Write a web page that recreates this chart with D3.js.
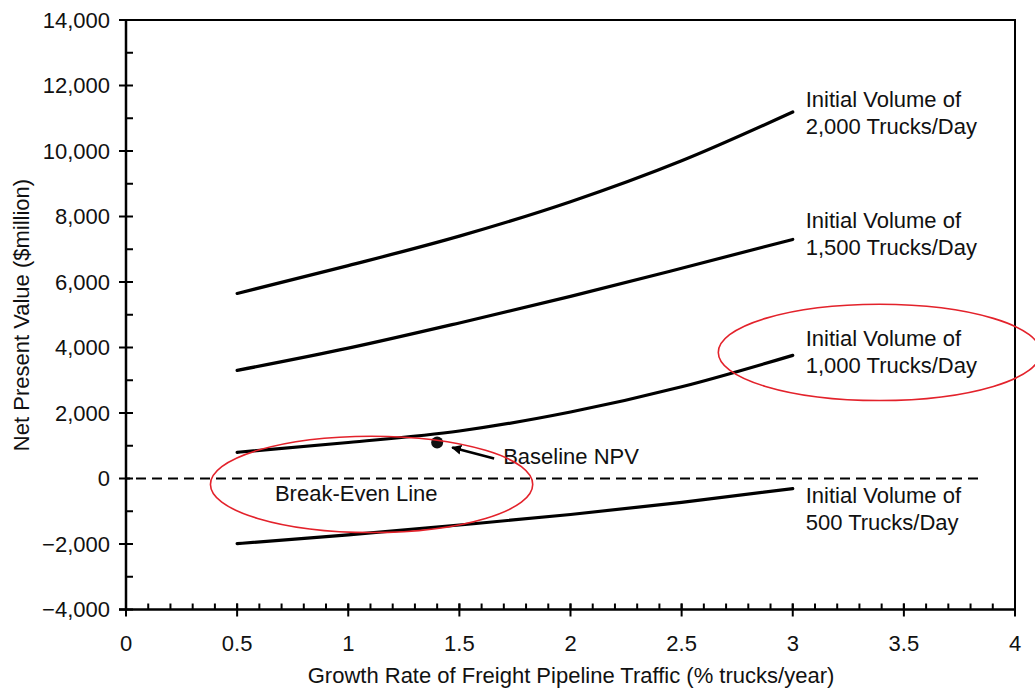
<!DOCTYPE html>
<html>
<head>
<meta charset="utf-8">
<script src="https://cdn.jsdelivr.net/npm/d3@7"></script>
<style>
  body { margin: 0; background: #ffffff; }
  svg text { font-family: "Liberation Sans", Arial, sans-serif; fill: #111111; }
</style>
</head>
<body>
<svg id="chart" width="1035" height="688"></svg>
<script>
// Growth rate of pipeline traffic (% trucks/year) and NPV ($million) per initial volume
const growthRates = [0.5, 1.0, 1.5, 2.0, 2.5, 3.0];
const npv2000 = [5650, 6500, 7400, 8450, 9700, 11190];
const npv1500 = [3300, 3980, 4750, 5560, 6420, 7300];
const npv1000 = [800, 1100, 1450, 2030, 2800, 3760];
const npv500 = [-1990, -1720, -1420, -1100, -730, -310];
const volumeLabels = ["2,000", "1,500", "1,000", "500"];

// Baseline scenario
const baselineRate = [1.4];
const baselineNpv = [1100];

// Break-even reference
const breakEvenValue = 0;
const breakEvenEndRate = 3.85;
const breakEvenLabelRate = 0.67;

// Red highlight ellipses: [rate, npv] centres and [rate, npv] radii
const highlightCenters = [[1.105, -180], [3.39, 3850]];
const highlightRadii = [0.725, 1470];

// Axis ticks
const xMajorTicks = [0, 0.5, 1, 1.5, 2, 2.5, 3, 3.5, 4];
const xMinorTicks = d3.range(0, 41).map(d => d / 10);
const yMajorTicks = [-4000, -2000, 0, 2000, 4000, 6000, 8000, 10000, 12000, 14000];
const yMinorTicks = [-3000, -1000, 1000, 3000, 5000, 7000, 9000, 11000, 13000];

const series = [npv2000, npv1500, npv1000, npv500];
const labelShift = [-5, -11, -9, 14];

const svg = d3.select("#chart");
const plotLeft = 126, plotRight = 1015, plotTop = 20, plotBottom = 609.5;

const x = d3.scaleLinear().domain([0, 4]).range([plotLeft, plotRight]);
const y = d3.scaleLinear().domain([-4000, 14000]).range([plotBottom, plotTop]);

const fontSize = 22;

// Frame (top and right edges)
svg.append("path")
  .attr("d", `M${plotLeft},${plotTop}H${plotRight}V${plotBottom}`)
  .attr("fill", "none").attr("stroke", "#000").attr("stroke-width", 2);

// Y axis
const yAxis = svg.append("g").attr("transform", `translate(${plotLeft},0)`);
yAxis.append("line").attr("x1", 0).attr("x2", 0).attr("y1", plotTop - 1).attr("y2", plotBottom + 1)
  .attr("stroke", "#000").attr("stroke-width", 2.5);
yAxis.selectAll(".ymaj").data(yMajorTicks).join("line")
  .attr("x1", -7).attr("x2", 7)
  .attr("y1", d => y(d)).attr("y2", d => y(d))
  .attr("stroke", "#000").attr("stroke-width", 2);
yAxis.selectAll(".ymin").data(yMinorTicks).join("line")
  .attr("x1", 0).attr("x2", 7)
  .attr("y1", d => y(d)).attr("y2", d => y(d))
  .attr("stroke", "#000").attr("stroke-width", 2);
const yFmt = d3.format(",");
yAxis.selectAll(".ylab").data(yMajorTicks).join("text")
  .attr("x", -16).attr("y", d => y(d))
  .attr("text-anchor", "end").attr("dominant-baseline", "central")
  .style("font-size", fontSize + "px")
  .text(d => yFmt(d));

// X axis
const xAxis = svg.append("g").attr("transform", `translate(0,${plotBottom})`);
xAxis.append("line").attr("x1", plotLeft - 7).attr("x2", plotRight + 1).attr("y1", 0).attr("y2", 0)
  .attr("stroke", "#000").attr("stroke-width", 2.5);
xAxis.selectAll(".xmin").data(xMinorTicks).join("line")
  .attr("x1", d => x(d)).attr("x2", d => x(d))
  .attr("y1", -6).attr("y2", 0)
  .attr("stroke", "#000").attr("stroke-width", 2);
xAxis.selectAll(".xmaj").data(xMajorTicks).join("line")
  .attr("x1", d => x(d)).attr("x2", d => x(d))
  .attr("y1", -6).attr("y2", 7)
  .attr("stroke", "#000").attr("stroke-width", 2);
xAxis.selectAll(".xlab").data(xMajorTicks).join("text")
  .attr("x", d => x(d)).attr("y", 41)
  .attr("text-anchor", "middle")
  .style("font-size", fontSize + "px")
  .text(d => String(d));

// Axis titles
svg.append("text")
  .attr("x", 571).attr("y", 683)
  .attr("text-anchor", "middle")
  .style("font-size", fontSize + "px")
  .text("Growth Rate of Freight Pipeline Traffic (% trucks/year)");
svg.append("text")
  .attr("transform", `translate(29,315) rotate(-90)`)
  .attr("text-anchor", "middle")
  .style("font-size", fontSize + "px")
  .text("Net Present Value ($million)");

// Break-even line
svg.append("line")
  .attr("x1", x(0)).attr("x2", x(breakEvenEndRate))
  .attr("y1", y(breakEvenValue)).attr("y2", y(breakEvenValue))
  .attr("stroke", "#000").attr("stroke-width", 2.2)
  .attr("stroke-dasharray", "10,6").attr("stroke-dashoffset", 6);
svg.append("text")
  .attr("x", x(breakEvenLabelRate)).attr("y", y(breakEvenValue) + 22)
  .style("font-size", fontSize + "px")
  .text("Break-Even Line");

// NPV curves
const line = d3.line()
  .x((d, i) => x(growthRates[i]))
  .y(d => y(d))
  .curve(d3.curveMonotoneX);

svg.selectAll(".npv").data(series).join("path")
  .attr("class", "npv")
  .attr("d", d => line(d))
  .attr("fill", "none").attr("stroke", "#000").attr("stroke-width", 3.2)
  .attr("stroke-linecap", "round");

// Curve labels
const lastRate = growthRates[growthRates.length - 1];
series.forEach((vals, i) => {
  const t = svg.append("text")
    .attr("x", x(lastRate) + 13)
    .attr("y", y(vals[vals.length - 1]) + labelShift[i])
    .style("font-size", fontSize + "px");
  t.append("tspan").attr("x", x(lastRate) + 13).text("Initial Volume of");
  t.append("tspan").attr("x", x(lastRate) + 13).attr("dy", 27).text(volumeLabels[i] + " Trucks/Day");
});

// Baseline NPV point with arrow and label
svg.append("defs").append("marker")
  .attr("id", "arrowhead")
  .attr("viewBox", "0 0 10 10")
  .attr("refX", 9).attr("refY", 5)
  .attr("markerWidth", 4).attr("markerHeight", 4)
  .attr("markerUnits", "strokeWidth")
  .attr("orient", "auto")
  .append("path").attr("d", "M0,0L10,5L0,10z").attr("fill", "#000");

const px = x(baselineRate[0]), py = y(baselineNpv[0]);
svg.append("circle")
  .attr("cx", px).attr("cy", py).attr("r", 6)
  .attr("fill", "#111");
svg.append("line")
  .attr("x1", px + 57).attr("y1", py + 16)
  .attr("x2", px + 15).attr("y2", py + 5)
  .attr("stroke", "#000").attr("stroke-width", 2.5)
  .attr("marker-end", "url(#arrowhead)");
svg.append("text")
  .attr("x", px + 66).attr("y", py + 22)
  .style("font-size", fontSize + "px")
  .text("Baseline NPV");

// Highlight ellipses
svg.selectAll(".highlight").data(highlightCenters).join("ellipse")
  .attr("class", "highlight")
  .attr("cx", d => x(d[0])).attr("cy", d => y(d[1]))
  .attr("rx", x(highlightRadii[0]) - x(0))
  .attr("ry", y(0) - y(highlightRadii[1]))
  .attr("fill", "none").attr("stroke", "#e3222b").attr("stroke-width", 1.6);
</script>
</body>
</html>
